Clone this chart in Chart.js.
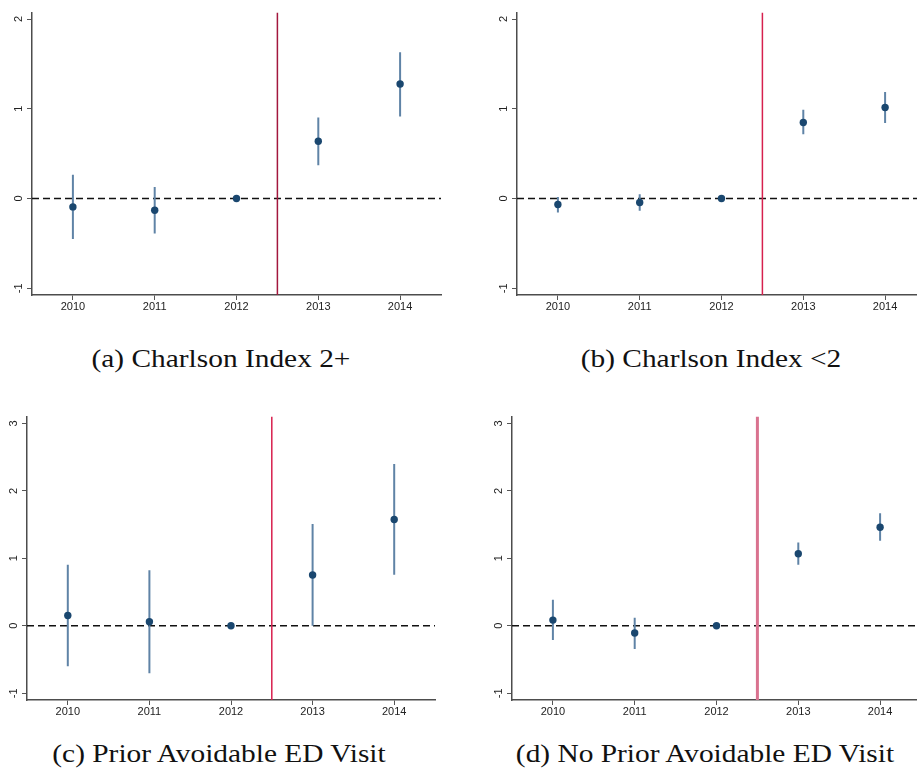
<!DOCTYPE html>
<html>
<head>
<meta charset="utf-8">
<script src="https://cdn.jsdelivr.net/npm/chart.js@4.4.1/dist/chart.umd.min.js"></script>
<style>
  html, body { margin: 0; padding: 0; background: #fff; }
  #stage { position: relative; width: 917px; height: 781px; overflow: hidden; background: #fff; }
  canvas { position: absolute; }
  .cap { position: absolute; width: 500px; text-align: center; font-family: "Liberation Serif", serif;
         font-size: 26px; line-height: 26px; color: #111; white-space: nowrap; transform: scaleX(1.13); }
</style>
</head>
<body>
<div id="stage"></div>
<script>
// ---------------- data ----------------
const years = [2010, 2011, 2012, 2013, 2014];
const policyCut = 2012.5;

const coefA = [-0.093, -0.130, 0, 0.638, 1.277];
const lowA  = [-0.450, -0.390, 0, 0.372, 0.915];
const highA = [ 0.266,  0.128, 0, 0.904, 1.631];

const coefB = [-0.066, -0.044, 0, 0.848, 1.014];
const lowB  = [-0.155, -0.137, 0, 0.715, 0.841];
const highB = [ 0.018,  0.048, 0, 0.989, 1.188];

const coefC = [0.152,  0.059, 0, 0.753, 1.575];
const lowC  = [-0.600, -0.704, 0, 0.000, 0.757];
const highC = [0.905,  0.822, 0, 1.510, 2.396];

const coefD = [0.084, -0.108, 0, 1.067, 1.461];
const lowD  = [-0.211, -0.344, 0, 0.905, 1.259];
const highD = [0.384,  0.118, 0, 1.235, 1.668];

const yTicksTop = [-1, 0, 1, 2];
const yTicksBottom = [-1, 0, 1, 2, 3];
const yRangeTop = [-1.075, 2.072];
const yRangeBottom = [-1.1, 3.1];

const captions = ["(a) Charlson Index 2+", "(b) Charlson Index <2",
                  "(c) Prior Avoidable ED Visit", "(d) No Prior Avoidable ED Visit"];

// ---------------- layout / style ----------------
const AX_W = 40, AX_H = 30, PAD_T = 8, PAD_R = 8;
const panels = [
  { coef: coefA, low: lowA, high: highA, yTicks: yTicksTop, yRange: yRangeTop,
    left: 32, top: 11, w: 409, h: 284, vColor: '#a3173d', vWidth: 1.5,
    cap: captions[0], capX: 221, capBase: 368 },
  { coef: coefB, low: lowB, high: highB, yTicks: yTicksTop, yRange: yRangeTop,
    left: 517, top: 11, w: 409, h: 284, vColor: '#d6204e', vWidth: 1.5,
    cap: captions[1], capX: 711, capBase: 368 },
  { coef: coefC, low: lowC, high: highC, yTicks: yTicksBottom, yRange: yRangeBottom,
    left: 27, top: 415, w: 408, h: 285, vColor: '#d81f4d', vWidth: 1.5,
    cap: captions[2], capX: 219, capBase: 763 },
  { coef: coefD, low: lowD, high: highD, yTicks: yTicksBottom, yRange: yRangeBottom,
    left: 512, top: 415, w: 409, h: 285, vColor: '#d9728f', vWidth: 3,
    cap: captions[3], capX: 705, capBase: 763 }
];

const stage = document.getElementById('stage');
const tickFont = { family: '"Liberation Sans", Arial, sans-serif', size: 11 };

panels.forEach(p => {
  const cv = document.createElement('canvas');
  const cw = AX_W + p.w + PAD_R, ch = PAD_T + p.h + AX_H;
  cv.width = cw; cv.height = ch;
  cv.style.width = cw + 'px'; cv.style.height = ch + 'px';
  cv.style.left = (p.left - AX_W) + 'px';
  cv.style.top = (p.top - PAD_T) + 'px';
  stage.appendChild(cv);

  const ciData = [];
  years.forEach((yr, i) => {
    ciData.push({ x: yr, y: p.low[i] }, { x: yr, y: p.high[i] }, { x: yr, y: null });
  });
  const pts = years.map((yr, i) => ({ x: yr, y: p.coef[i] }));
  const xMin = years[0] - 0.5, xMax = years[years.length - 1] + 0.5;

  new Chart(cv, {
    type: 'scatter',
    data: {
      datasets: [
        { data: [{ x: xMin, y: 0 }, { x: xMax, y: 0 }], showLine: true, pointRadius: 0,
          borderColor: '#111', borderWidth: 1.4, borderDash: [7, 4], order: 4 },
        { data: [{ x: policyCut, y: p.yRange[0] }, { x: policyCut, y: p.yRange[1] }], showLine: true,
          pointRadius: 0, borderColor: p.vColor, borderWidth: p.vWidth, order: 3 },
        { data: ciData, showLine: true, spanGaps: false, pointRadius: 0,
          borderColor: '#5f83a6', borderWidth: 2, order: 2 },
        { data: pts, showLine: false, pointRadius: 3.7, pointBackgroundColor: '#1a476f',
          pointBorderWidth: 0, order: 1 }
      ]
    },
    options: {
      responsive: false, animation: false, devicePixelRatio: 1,
      layout: { padding: { top: PAD_T, right: PAD_R, left: 0, bottom: 0 } },
      plugins: { legend: { display: false }, tooltip: { enabled: false } },
      scales: {
        x: {
          type: 'linear', min: xMin, max: xMax,
          afterBuildTicks: s => { s.ticks = years.map(v => ({ value: v })); },
          afterFit: s => { s.height = AX_H; },
          ticks: { font: tickFont, color: '#222', padding: 0, maxRotation: 0, minRotation: 0,
                   autoSkip: false, callback: v => String(v) },
          grid: { drawOnChartArea: false, drawTicks: true, tickLength: 5, color: '#555', lineWidth: 1 },
          border: { color: '#4d4d4d', width: 1.5 }
        },
        y: {
          type: 'linear', min: p.yRange[0], max: p.yRange[1],
          afterBuildTicks: s => { s.ticks = p.yTicks.map(v => ({ value: v })); },
          afterFit: s => { s.width = AX_W; },
          ticks: { font: tickFont, color: '#222', padding: 3, minRotation: 90, maxRotation: 90,
                   crossAlign: 'center', autoSkip: false, callback: v => String(v) },
          grid: { drawOnChartArea: false, drawTicks: true, tickLength: 5, color: '#555', lineWidth: 1 },
          border: { color: '#4d4d4d', width: 1.5 }
        }
      }
    }
  });

  const cap = document.createElement('div');
  cap.className = 'cap';
  cap.textContent = p.cap;
  cap.style.left = (p.capX - 250) + 'px';
  cap.style.top = (p.capBase - 22) + 'px';
  stage.appendChild(cap);
});
</script>
</body>
</html>
